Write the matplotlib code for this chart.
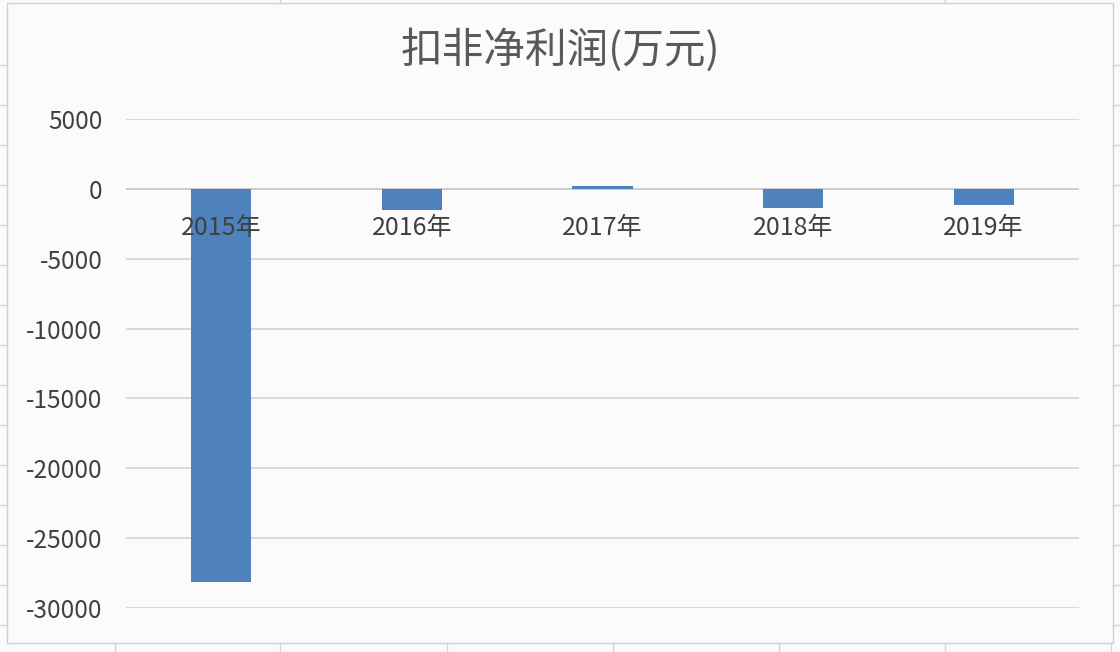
import matplotlib.pyplot as plt
from matplotlib.lines import Line2D
from matplotlib.patches import Rectangle

plt.rcParams['font.family'] = ['Noto Sans CJK SC', 'DejaVu Sans']
plt.rcParams['axes.unicode_minus'] = False

years = ['2015年', '2016年', '2017年', '2018年', '2019年']
profit = [-28150, -1480, 180, -1340, -1180]
title = '扣非净利润(万元)'

W, H = 1120, 652
fig = plt.figure(figsize=(W / 100, H / 100), dpi=100)
fig.patch.set_facecolor('#fbfbfc')

# faint spreadsheet cells around the chart
for y in range(65, H, 40):
    fig.add_artist(Line2D([0, 7 / W], [1 - y / H] * 2, color='#d4d4d4', lw=1))
    fig.add_artist(Line2D([1113 / W, 1], [1 - y / H] * 2, color='#d4d4d4', lw=1))
for x in [115, 280, 447, 613, 779, 945, 1111]:
    fig.add_artist(Line2D([x / W] * 2, [0, 1 - 643 / H], color='#d4d4d4', lw=1))
for x in [280, 945]:
    fig.add_artist(Line2D([x / W] * 2, [1 - 3 / H, 1], color='#d4d4d4', lw=1))

# chart area border
fig.add_artist(Rectangle((7 / W, 1 - 643 / H), 1106 / W, 640 / H,
                         fill=True, facecolor='#fbfbfc', edgecolor='#cfcfcf', lw=1, zorder=0))

ax = fig.add_axes([126 / W, 1 - 608 / H, 953 / W, 489 / H])
ax.set_facecolor('none')

x = range(len(years))
ax.bar(x, profit, width=0.315, color='#4f81bd', zorder=2)

ax.set_xlim(-0.5, len(years) - 0.5)
ax.set_ylim(-30000, 5000)
ax.set_yticks(range(-30000, 5001, 5000))
ax.yaxis.grid(True, color='#d0d0d0', lw=1.1)
ax.set_axisbelow(True)
ax.axhline(0, color='#c8c8c8', lw=1.1, zorder=1)

for s in ax.spines.values():
    s.set_visible(False)
ax.spines['bottom'].set_position(('data', 0))
ax.set_xticks(list(x))
ax.set_xticklabels(years)
ax.xaxis.set_zorder(5)
ax.tick_params(axis='x', length=0, pad=19, labelsize=18, labelcolor='#404040')
ax.tick_params(axis='y', length=0, pad=17, labelsize=17.5, labelcolor='#404040')

fig.text(560 / W, 1 - 50 / H, title, ha='center', va='center',
         fontsize=30, color='#595959')

plt.savefig('out.png', dpi=100, facecolor=fig.get_facecolor())
